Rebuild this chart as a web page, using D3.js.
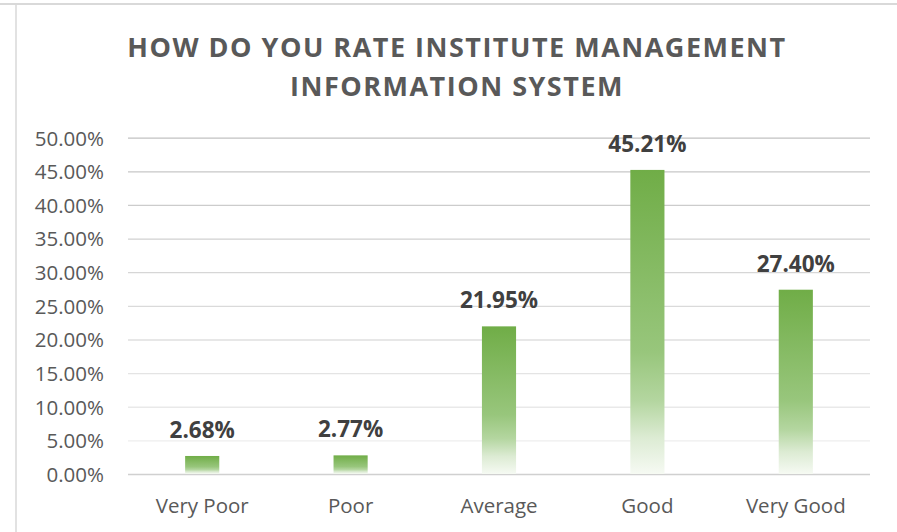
<!DOCTYPE html>
<html>
<head>
<meta charset="utf-8">
<script src="https://cdn.jsdelivr.net/npm/d3@7/dist/d3.min.js"></script>
<style>
  html, body { margin: 0; padding: 0; background: #ffffff; }
  svg { display: block; font-family: "Open Sans", "Noto Sans", sans-serif; }
</style>
</head>
<body>
<script>
'use strict';

// chart data
const categories = ["Very Poor", "Poor", "Average", "Good", "Very Good"];
const values = [2.68, 2.77, 21.95, 45.21, 27.40];
const yTicks = [0, 5, 10, 15, 20, 25, 30, 35, 40, 45, 50];
const titleLines = ["HOW DO YOU RATE INSTITUTE MANAGEMENT", "INFORMATION SYSTEM"];

const width = 897, height = 532;
const plot = {left: 128, right: 870, top: 137.7, bottom: 474};

const svg = d3.select("body").append("svg")
  .attr("width", width)
  .attr("height", height);

// bar gradient: solid green at the top, fading to white at the base
const defs = svg.append("defs");
const grad = defs.append("linearGradient")
  .attr("id", "barFill")
  .attr("x1", 0).attr("y1", 0)
  .attr("x2", 0).attr("y2", 1);
grad.append("stop").attr("offset", "0%").attr("stop-color", "#70ad47");
grad.append("stop").attr("offset", "60%").attr("stop-color", "#98c67c");
grad.append("stop").attr("offset", "76%").attr("stop-color", "#b4d6a0");
grad.append("stop").attr("offset", "88%").attr("stop-color", "#dcebd3");
grad.append("stop").attr("offset", "100%").attr("stop-color", "#f6faf3");

// frame of the chart area
svg.append("line")
  .attr("x1", 0).attr("x2", width)
  .attr("y1", 4).attr("y2", 4)
  .attr("stroke", "#d9d9d9").attr("stroke-width", 2);
svg.append("line")
  .attr("x1", 16).attr("x2", 16)
  .attr("y1", 4).attr("y2", height)
  .attr("stroke", "#d9d9d9").attr("stroke-width", 1.5);

// scales
let x = d3.scaleBand()
  .domain(categories)
  .range([plot.left, plot.right])
  .paddingInner(0.77)
  .paddingOuter(0.385);

let y = d3.scaleLinear()
  .domain([0, 50])
  .range([plot.bottom, plot.top]);

// gridlines get darker towards the top
let gridColor = d3.scaleLinear()
  .domain([5, 50])
  .range(["#eeeeee", "#c2c2c2"]);

let yAxis = d3.axisLeft(y)
  .tickValues(yTicks)
  .tickSize(plot.left - plot.right)
  .tickPadding(24)
  .tickFormat(d => d.toFixed(2) + "%");

let yG = svg.append("g")
  .attr("transform", "translate(" + plot.left + ",0)")
  .call(yAxis);
yG.select(".domain").remove();
yG.selectAll(".tick line")
  .attr("stroke", d => d === 0 ? "#d0d0d0" : gridColor(d))
  .attr("stroke-width", d => d === 0 ? 1.6 : 1.3);
yG.selectAll(".tick text")
  .attr("x", 104 - plot.left)
  .attr("dy", "0.36em")
  .attr("fill", "#595959")
  .style("font-size", "20.5px")
  .style("font-family", "'Open Sans', sans-serif");

// x axis labels
let xAxis = d3.axisBottom(x).tickSize(0).tickPadding(24);
let xG = svg.append("g")
  .attr("transform", "translate(0," + plot.bottom + ")")
  .call(xAxis);
xG.select(".domain").remove();
xG.selectAll(".tick text")
  .attr("fill", "#595959")
  .attr("dy", "0.71em")
  .style("font-size", "20.5px")
  .style("font-family", "'Open Sans', sans-serif");

// bars
svg.selectAll(".bar")
  .data(values)
  .enter()
  .append("rect")
    .attr("class", "bar")
    .attr("x", (d, i) => x(categories[i]))
    .attr("width", x.bandwidth())
    .attr("y", d => y(d))
    .attr("height", d => y(0) - y(d))
    .attr("fill", "url(#barFill)");

// value labels
svg.selectAll(".value")
  .data(values)
  .enter()
  .append("text")
    .attr("class", "value")
    .attr("x", (d, i) => x(categories[i]) + x.bandwidth() / 2)
    .attr("y", d => y(d) - 18)
    .attr("text-anchor", "middle")
    .attr("fill", "#404040")
    .style("font-weight", "bold")
    .style("font-size", "22.5px")
    .text(d => d.toFixed(2) + "%");

// title
svg.selectAll(".title")
  .data(titleLines)
  .enter()
  .append("text")
    .attr("class", "title")
    .attr("x", 457)
    .attr("y", (d, i) => 57 + i * 39)
    .attr("text-anchor", "middle")
    .attr("fill", "#595959")
    .style("font-weight", "bold")
    .style("font-size", "27px")
    .style("letter-spacing", "1.5px")
    .text(d => d);
</script>
</body>
</html>
